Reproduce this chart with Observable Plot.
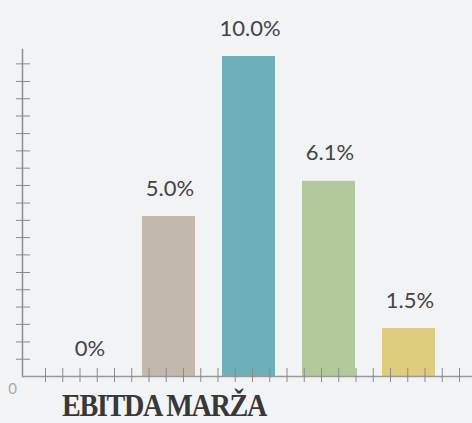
<!DOCTYPE html>
<html>
<head>
<meta charset="utf-8">
<script src="https://cdn.jsdelivr.net/npm/d3@7"></script>
<script src="https://cdn.jsdelivr.net/npm/@observablehq/plot@0.6"></script>
<style>
  html, body { margin: 0; padding: 0; background: #f2f3f5; }
  #wrap { position: relative; width: 472px; height: 423px; overflow: hidden; }
  #wrap svg { position: absolute; left: 0; top: 0; }
  #title {
    position: absolute; left: 62px; top: 393px;
    font-family: "Liberation Serif", serif; font-weight: bold;
    font-size: 32px; line-height: 24px; color: #383838;
    letter-spacing: -1.5px; white-space: nowrap;
    transform: scaleX(0.88); transform-origin: left top;
  }
</style>
</head>
<body>
<div id="wrap"><div id="title">EBITDA MARŽA</div></div>
<script>
const categories = ["K1", "K2", "K3", "K4", "K5"];
const values = [0, 5.0, 10.0, 6.1, 1.5];
const valueLabels = ["0%", "5.0%", "10.0%", "6.1%", "1.5%"];
const barColors = ["#c2b9ac", "#c2b9ac", "#6db0b9", "#b2c99c", "#dfcd7e"];
const yTicks = [0.54, 1.08, 1.63, 2.17, 2.71, 3.25, 3.80, 4.34, 4.88, 5.42, 5.97, 6.51, 7.05, 7.59, 8.14, 8.68, 9.22, 9.77];
const xTicks = [0, 1, 2, 3, 4, 5, 6, 7, 8, 9, 10, 11, 12, 13, 14, 15, 16, 17, 18, 19, 20, 21, 22, 23, 24];
const originLabel = ["0"];

const data = categories.map((c, i) => ({cat: c, value: values[i], label: valueLabels[i], color: barColors[i]}));

const common = {
  width: 472, height: 423,
  marginTop: 49, marginBottom: 47, marginLeft: 22, marginRight: 0,
  style: {background: "transparent", overflow: "visible"}
};

const bars = Plot.plot({
  ...common,
  x: {type: "band", domain: categories, range: [34.2, 463], padding: 0.34, axis: null},
  y: {domain: [0, 10], range: [376, 56], axis: null},
  color: {type: "identity"},
  marks: [
    Plot.barY(data, {x: "cat", y: "value", fill: "color"}),
    Plot.text(data, {x: "cat", y: "value", text: "label", dy: -21, dx: 1, lineAnchor: "bottom",
      fontSize: 22, fill: "#444", fontFamily: "Lato, 'Open Sans', sans-serif"})
  ]
});

const axes = Plot.plot({
  ...common,
  x: {type: "linear", domain: [0, 24], range: [45, 459], axis: null},
  y: {domain: [0, 10], range: [376, 56], axis: null},
  marks: [
    Plot.frame({anchor: "left", stroke: "#8f8f8f", strokeWidth: 1.5}),
    Plot.ruleY([0], {stroke: "#9a9a9a", strokeWidth: 1.5}),
    Plot.axisY({ticks: yTicks, anchor: "left", tickSize: 14, dx: 8, tickFormat: () => "", stroke: "#8a8a8a"}),
    Plot.axisX({ticks: xTicks, anchor: "bottom", tickSize: 14, dy: -8, tickFormat: () => "", stroke: "#8a8a8a"}),
    Plot.text(originLabel, {frameAnchor: "bottom-left", dx: -10, dy: 17, lineAnchor: "bottom",
      textAnchor: "middle", fontSize: 15, fill: "#aaaaaa", fontFamily: "Lato, sans-serif"})
  ]
});

const wrap = document.getElementById("wrap");
wrap.insertBefore(bars, wrap.firstChild);
wrap.insertBefore(axes, bars.nextSibling);
</script>
</body>
</html>
